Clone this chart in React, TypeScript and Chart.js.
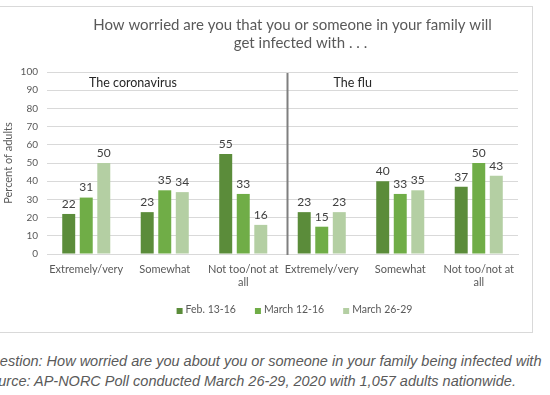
import React, { useEffect, useRef } from "react";
import { Chart, registerables } from "chart.js";

Chart.register(...registerables);

const categories: string[][] = [
  ["Extremely/very"],
  ["Somewhat"],
  ["Not too/not at", "all"],
  ["Extremely/very"],
  ["Somewhat"],
  ["Not too/not at", "all"],
];
const seriesLabels = ["Feb. 13-16", "March 12-16", "March 26-29"];
const feb1316 = [22, 23, 55, 23, 40, 37];
const march1216 = [31, 35, 33, 15, 33, 50];
const march2629 = [50, 34, 16, 23, 35, 43];
const panelLabels = ["The coronavirus", "The flu"];
const titleLines = [
  "How worried are you that you or someone in your family will",
  "get infected with . . .",
];
const yAxisTitle = "Percent of adults";
const captionLines = [
  "Question: How worried are you about you or someone in your family being infected with",
  "Source: AP-NORC Poll conducted March 26-29, 2020 with 1,057 adults nationwide.",
];

const COLORS = ["#5B8C3A", "#70AD47", "#B4CFA3"];
const FONT = "Lato, 'Open Sans', sans-serif";

const extrasPlugin = {
  id: "extras",
  afterDatasetsDraw(chart: any) {
    const { ctx, chartArea, scales } = chart;
    const xs = scales.x;
    ctx.save();

    // Title
    const cx = (chartArea.left + chartArea.right) / 2 + 10;
    ctx.fillStyle = "#595959";
    ctx.font = `15px ${FONT}`;
    ctx.textAlign = "center";
    ctx.textBaseline = "middle";
    ctx.fillText(titleLines[0], cx, 19);
    ctx.fillText(titleLines[1], cx + 8, 37);

    // Divider
    const dx = (xs.getPixelForValue(2) + xs.getPixelForValue(3)) / 2 + 5;
    ctx.strokeStyle = "#7F7F7F";
    ctx.lineWidth = 2;
    ctx.beginPath();
    ctx.moveTo(dx, chartArea.top + 1);
    ctx.lineTo(dx, chartArea.bottom + 1);
    ctx.stroke();

    // Panel labels
    ctx.fillStyle = "#262626";
    ctx.font = `12.5px ${FONT}`;
    ctx.textAlign = "left";
    ctx.textBaseline = "middle";
    ctx.fillText(panelLabels[0], chartArea.left + 42, chartArea.top + 11);
    ctx.fillText(panelLabels[1], dx + 46, chartArea.top + 11);

    // Data labels
    ctx.fillStyle = "#404040";
    ctx.font = `12px ${FONT}`;
    ctx.textAlign = "center";
    ctx.textBaseline = "bottom";
    chart.data.datasets.forEach((ds: any, di: number) => {
      const meta = chart.getDatasetMeta(di);
      meta.data.forEach((bar: any, i: number) => {
        ctx.fillText(String(ds.data[i]), bar.x, bar.y - 4);
      });
    });

    // Legend
    ctx.font = `10.5px ${FONT}`;
    ctx.textBaseline = "middle";
    ctx.textAlign = "left";
    const box = 6;
    const gap = 3;
    const spacing = 19;
    const widths = chart.data.datasets.map(
      (ds: any) => box + gap + ctx.measureText(ds.label).width
    );
    const total =
      widths.reduce((a: number, b: number) => a + b, 0) +
      spacing * (widths.length - 1);
    let lx = cx + 2 - total / 2;
    const ly = 304;
    chart.data.datasets.forEach((ds: any, di: number) => {
      ctx.fillStyle = ds.backgroundColor;
      ctx.fillRect(lx, ly - box / 2 + 1, box, box);
      ctx.fillStyle = "#595959";
      ctx.fillText(ds.label, lx + box + gap, ly);
      lx += widths[di] + spacing;
    });

    ctx.restore();
  },
};

export default function App() {
  const ref = useRef<HTMLCanvasElement | null>(null);

  useEffect(() => {
    if (!ref.current) return;
    const chart = new Chart(ref.current, {
      type: "bar",
      data: {
        labels: categories,
        datasets: [
          { label: seriesLabels[0], data: feb1316, backgroundColor: COLORS[0] },
          { label: seriesLabels[1], data: march1216, backgroundColor: COLORS[1] },
          { label: seriesLabels[2], data: march2629, backgroundColor: COLORS[2] },
        ],
      },
      options: {
        responsive: false,
        animation: false,
        events: [],
        layout: { padding: { top: 66, left: 0, right: 15, bottom: 38 } },
        datasets: {
          bar: { categoryPercentage: 0.67, barPercentage: 0.74 },
        },
        plugins: {
          legend: { display: false },
          title: { display: false },
          tooltip: { enabled: false },
        },
        scales: {
          x: {
            grid: { display: false, drawTicks: false },
            border: { display: true, color: "#D9D9D9", width: 1 },
            ticks: {
              color: "#595959",
              font: { family: FONT, size: 11 },
              padding: 9,
              maxRotation: 0,
              autoSkip: false,
            },
            afterFit(scale: any) {
              scale.height = 40;
            },
          },
          y: {
            min: 0,
            max: 100,
            ticks: {
              stepSize: 10,
              color: "#595959",
              font: { family: FONT, size: 10 },
              padding: 9,
            },
            grid: { color: "#D9D9D9", drawTicks: false },
            border: { display: false },
            title: {
              display: true,
              text: yAxisTitle,
              color: "#595959",
              font: { family: FONT, size: 11 },
              padding: { top: 2, bottom: 0 },
            },
            afterFit(scale: any) {
              scale.width = 47;
            },
          },
        },
      },
      plugins: [extrasPlugin],
    });
    return () => chart.destroy();
  }, []);

  return (
    <div
      style={{
        position: "absolute",
        left: 0,
        top: 0,
        width: 550,
        height: 395,
        overflow: "hidden",
        background: "#fff",
      }}
    >
      <div
        style={{
          position: "absolute",
          left: -10,
          top: 6,
          width: 543,
          height: 327,
          border: "1px solid #D9D9D9",
          boxSizing: "border-box",
        }}
      />
      <canvas
        ref={ref}
        width={533}
        height={326}
        style={{ position: "absolute", left: 0, top: 6, width: 533, height: 326 }}
      />
      <div
        style={{
          position: "absolute",
          left: -19.5,
          top: 351,
          whiteSpace: "nowrap",
          fontFamily: "'Liberation Sans', Arial, sans-serif",
          fontStyle: "italic",
          fontSize: 14.5,
          lineHeight: "20px",
          color: "#5A5A5A",
        }}
      >
        {captionLines.map((l, i) => (
          <div key={i}>{l}</div>
        ))}
      </div>
    </div>
  );
}
